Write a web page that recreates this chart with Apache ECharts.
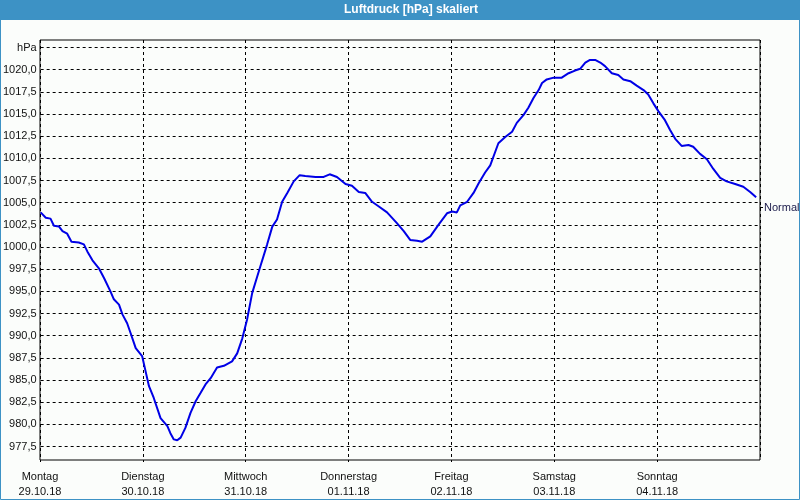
<!DOCTYPE html>
<html>
<head>
<meta charset="utf-8">
<script src="https://cdn.jsdelivr.net/npm/echarts@6/dist/echarts.min.js"></script>
<style>
html,body{margin:0;padding:0;background:#fbfdfb;}
#chart{width:800px;height:500px;}
</style>
</head>
<body>
<div id="chart"></div>
<script>
// Hours since Montag 29.10.18 00:00
var hours = [
  0,1.2,2.3,3.1,4.3,5.1,6.2,7.2,8.9,10.1,
  10.9,12.1,13.6,14.8,16.3,17.1,18.3,19.1,20.2,21.0,
  22.2,23.7,24.5,25.3,26.4,28.0,29.6,30.3,31.1,31.9,
  32.7,33.8,35.0,36.2,37.3,38.5,39.7,41.2,42.8,44.7,
  45.9,47.1,48.2,49.4,50.6,51.3,52.9,54.1,55.2,56.4,
  57.6,59.1,60.5,61.8,64.2,66.1,67.5,69.2,71.2,72.7,
  74.3,75.8,77.4,78.9,80.9,83.2,84.8,86.3,87.9,89.1,
  91.0,92.9,94.9,96.1,97.2,98.0,99.6,101.1,102.3,103.8,
  105.0,106.9,108.5,110.1,111.2,112.8,113.9,115.1,116.3,117.1,
  118.2,119.8,121.7,123.3,124.8,126.0,127.2,128.3,129.5,130.7,
  131.8,133.4,134.9,136.1,137.7,139.2,140.8,141.9,143.1,144.3,
  145.8,147.0,148.2,149.7,151.3,152.4,154.0,155.6,157.1,158.7,
  160.2,162.2,164.1,165.7,167.1
];
var pressure = [
  1003.9,1003.3,1003.2,1002.4,1002.3,1001.8,1001.5,1000.6,1000.5,1000.3,
  999.5,998.5,997.6,996.5,995.0,994.1,993.5,992.4,991.4,990.3,
  988.6,987.7,986.0,984.3,983.0,980.7,979.8,979.0,978.3,978.2,
  978.5,979.6,981.3,982.6,983.5,984.5,985.2,986.4,986.6,987.1,
  988.0,989.7,991.8,994.8,996.7,997.8,1000.3,1002.3,1003.1,1005.1,
  1006.1,1007.4,1008.1,1008.0,1007.9,1007.9,1008.2,1007.9,1007.1,1006.9,
  1006.2,1006.1,1005.1,1004.6,1003.9,1002.7,1001.8,1000.8,1000.7,1000.6,
  1001.2,1002.5,1003.8,1004.0,1003.9,1004.7,1005.1,1006.1,1007.2,1008.4,
  1009.2,1011.7,1012.4,1013.0,1014.0,1014.9,1015.7,1016.8,1017.7,1018.5,
  1018.9,1019.1,1019.1,1019.6,1019.9,1020.1,1020.8,1021.1,1021.1,1020.8,
  1020.4,1019.6,1019.4,1018.9,1018.7,1018.2,1017.7,1017.2,1016.2,1015.3,
  1014.3,1013.2,1012.2,1011.4,1011.5,1011.3,1010.5,1009.9,1008.8,1007.8,
  1007.4,1007.1,1006.8,1006.2,1005.6
];
var dayNames = ['Montag','Dienstag','Mittwoch','Donnerstag','Freitag','Samstag','Sonntag'];
var dayDates = ['29.10.18','30.10.18','31.10.18','01.11.18','02.11.18','03.11.18','04.11.18'];
var normalValue = 1004.5;
var normalLabel = 'Normal';
var titleText = 'Luftdruck [hPa] skaliert';
var unitLabel = 'hPa';

var seriesData = hours.map(function(h, i){ return [h, pressure[i]]; });

var FONT = '"Liberation Sans", Arial, sans-serif';
var chart = echarts.init(document.getElementById('chart'));
var option = {
  animation: false,
  backgroundColor: '#fbfdfb',
  grid: [
    {left: 40, right: 40, top: 40, bottom: 40, show: true, borderColor: '#000', borderWidth: 1, backgroundColor: 'transparent', containLabel: false},
    {left: 40, right: 40, top: 47.5, bottom: 53.5, containLabel: false}
  ],
  xAxis: [
    {
      gridIndex: 0, type: 'value', min: 0, max: 168, interval: 24,
      axisLine: {show: false},
      axisTick: {show: true, length: 3, lineStyle: {color: '#000', type: [2,2]}},
      splitLine: {show: true, lineStyle: {color: '#000', type: [3,3], width: 1}},
      axisLabel: {
        show: true, showMaxLabel: false, margin: 9,
        fontFamily: FONT, fontSize: 11, color: '#111', lineHeight: 15,
        formatter: function(v){ var i = Math.round(v/24); if (i >= dayNames.length) return ''; return dayNames[i] + '\n' + dayDates[i]; }
      }
    },
    {gridIndex: 1, type: 'value', min: 0, max: 168, show: false}
  ],
  yAxis: [
    {gridIndex: 0, type: 'value', min: 976, max: 1023.35, show: false, splitLine: {show: false}},
    {
      gridIndex: 1, type: 'value', min: 977.5, max: 1022.5, interval: 2.5,
      axisLine: {show: false}, axisTick: {show: false},
      splitLine: {show: true, lineStyle: {color: '#000', type: [3,3], width: 1}},
      axisLabel: {
        margin: 4, fontFamily: FONT, fontSize: 11, color: '#111',
        formatter: function(v){ if (Math.abs(v - 1022.5) < 0.01) return unitLabel; return v.toFixed(1).replace('.', ','); }
      }
    }
  ],
  series: [{
    type: 'line', xAxisIndex: 1, yAxisIndex: 1,
    data: seriesData, showSymbol: false, symbol: 'none',
    lineStyle: {color: '#0000e6', width: 2}
  }],
  graphic: [
    {type: 'rect', z: 100, shape: {x: 0, y: 0, width: 800, height: 20}, style: {fill: '#3d92c5'}},
    {type: 'text', z: 101, x: 411, y: 10, style: {text: titleText, fill: '#fff', font: 'bold 12px ' + FONT, textAlign: 'center', textVerticalAlign: 'middle'}},
    {type: 'rect', z: 100, shape: {x: 0.5, y: 0.5, width: 799, height: 499}, style: {fill: 'none', stroke: '#3d92c5', lineWidth: 1}}
  ]
};
chart.setOption(option);
var p = chart.convertToPixel({xAxisIndex: 1, yAxisIndex: 1}, [168, normalValue]);
var py = Math.round(p[1]) + 0.5;
chart.setOption({graphic: option.graphic.concat([
  {type: 'line', z: 100, shape: {x1: p[0], y1: py, x2: p[0] + 3, y2: py}, style: {stroke: '#000', lineWidth: 1}},
  {type: 'text', z: 101, x: p[0] + 4, y: py, style: {text: normalLabel, fill: '#1a1a4a', font: '11px ' + FONT, textAlign: 'left', textVerticalAlign: 'middle'}}
])});
</script>
</body>
</html>
